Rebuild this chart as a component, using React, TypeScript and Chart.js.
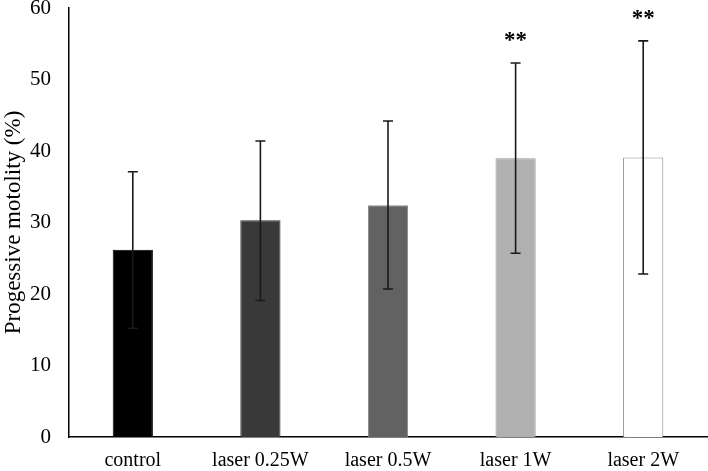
import React, { useEffect, useRef } from "react";
import { Chart, registerables } from "chart.js";

Chart.register(...registerables);

const categories = ["control", "laser 0.25W", "laser 0.5W", "laser 1W", "laser 2W"];
const meanValues = [26.2, 30.3, 32.4, 39.0, 39.1];
const errLow = [15.2, 19.1, 20.7, 25.7, 22.8];
const errHigh = [37.1, 41.4, 44.2, 52.3, 55.4];
const sigLabels = ["", "", "", "**", "**"];
const barColors = ["#000000", "#393939", "#626262", "#b0b0b0", "#ffffff"];
const barBorders = ["#000000", "#2e2e2e", "#8a8a8a", "#969696", "#8a8a8a"];
const yTicks = [0, 10, 20, 30, 40, 50, 60];

const FONT = "'Liberation Serif', 'Times New Roman', serif";

const errorBarPlugin = {
  id: "errorBars",
  afterDatasetsDraw(chart: any) {
    const ctx = chart.ctx;
    const meta = chart.getDatasetMeta(0);
    const yScale = chart.scales.y;
    ctx.save();
    ctx.strokeStyle = "#1a1a1a";
    ctx.lineWidth = 1.6;
    meta.data.forEach((bar: any, i: number) => {
      const x = bar.x;
      const yTop = yScale.getPixelForValue(errHigh[i]);
      const yBot = yScale.getPixelForValue(errLow[i]);
      const cap = 5;
      ctx.beginPath();
      ctx.moveTo(x, yTop);
      ctx.lineTo(x, yBot);
      ctx.moveTo(x - cap, yTop);
      ctx.lineTo(x + cap, yTop);
      ctx.moveTo(x - cap, yBot);
      ctx.lineTo(x + cap, yBot);
      ctx.stroke();
      if (sigLabels[i]) {
        ctx.fillStyle = "#000";
        ctx.font = `bold 23px ${FONT}`;
        ctx.textAlign = "center";
        ctx.textBaseline = "alphabetic";
        ctx.fillText(sigLabels[i], x, yTop - 16);
      }
    });
    ctx.restore();
  },
};

export default function App() {
  const ref = useRef<HTMLCanvasElement | null>(null);

  useEffect(() => {
    document.body.style.margin = "0";
    const canvas = ref.current;
    if (!canvas) return;
    const chart = new Chart(canvas, {
      type: "bar",
      data: {
        labels: categories,
        datasets: [
          {
            data: meanValues,
            backgroundColor: barColors,
            borderColor: barBorders,
            borderWidth: 1,
            barPercentage: 0.315,
            categoryPercentage: 1,
          },
        ],
      },
      options: {
        responsive: false,
        animation: false,
        devicePixelRatio: 1,
        layout: { padding: { top: 8, right: 1, bottom: 0, left: 0 } },
        plugins: {
          legend: { display: false },
          tooltip: { enabled: false },
        },
        scales: {
          x: {
            grid: { display: false, drawTicks: false },
            border: { display: true, color: "#000", width: 1.5 },
            ticks: {
              color: "#000",
              font: { family: FONT, size: 20 },
              padding: 12,
              maxRotation: 0,
              autoSkip: false,
            },
            afterFit(scale: any) {
              scale.height = 34;
              scale.paddingLeft = 0;
              scale.paddingRight = 0;
            },
          },
          y: {
            min: 0,
            max: 60,
            grid: { display: false, drawTicks: false },
            border: { display: true, color: "#000", width: 1.5 },
            afterBuildTicks(scale: any) {
              scale.ticks = yTicks.map((v) => ({ value: v }));
            },
            ticks: {
              color: "#000",
              font: { family: FONT, size: 21 },
              padding: 18,
            },
            title: {
              display: true,
              text: "Progessive motolity (%)",
              color: "#000",
              font: { family: FONT, size: 23 },
              padding: 0,
            },
            afterFit(scale: any) {
              scale.width = 69;
              scale.paddingTop = 0;
              scale.paddingBottom = 0;
            },
          },
        },
      },
      plugins: [errorBarPlugin],
    });
    return () => chart.destroy();
  }, []);

  return (
    <div style={{ width: 708, height: 471 }}>
      <canvas ref={ref} width={708} height={471} style={{ display: "block" }} />
    </div>
  );
}
